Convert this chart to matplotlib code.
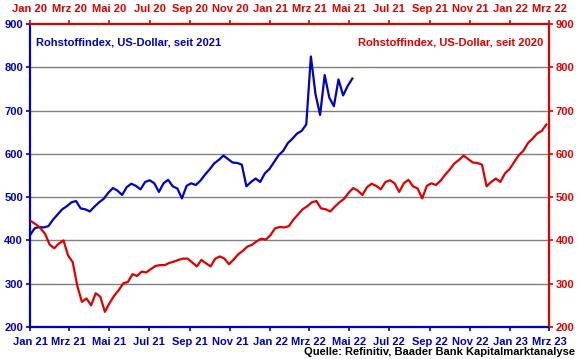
import matplotlib
matplotlib.use("Agg")
import matplotlib.pyplot as plt
import pandas as pd

plt.rcParams['font.family'] = ['Liberation Sans', 'DejaVu Sans']

# Commodity index (USD), weekly readings, Jan 2020 - May 2022
values_2020 = [444, 437, 428, 415, 390, 382, 393, 400, 365, 350, 295, 258, 266, 250,
               278, 270, 235, 255, 272, 285, 301, 304, 322, 318, 328, 326, 334, 341,
               343, 343, 348, 351, 355, 358, 358, 349, 340, 355, 347, 340, 358, 363,
               358, 345, 356, 368, 376, 386, 390, 398, 404, 402]
values_2021_22 = [412, 428, 431, 430, 433, 448, 460, 472, 479, 488, 491, 474, 472, 467,
                  478, 488, 496, 510, 521, 515, 505, 523, 531, 526, 518, 535, 539, 532,
                  512, 532, 540, 525, 520, 497, 526, 532, 528, 538, 552, 564, 578, 586,
                  596, 588, 580, 579, 575, 525, 535, 543, 535, 555, 565, 581, 597, 607,
                  625, 635, 647, 653, 668, 825, 738, 690, 782, 730, 710, 772, 735, 757,
                  774]
index_values = values_2020 + values_2021_22
index_dates = pd.date_range("2020-01-03", periods=len(index_values), freq="7D")

blue_start = "2021-01-01"     # "seit 2021"
red_end = "2022-02-28"        # red series shown until end of Feb 2022

month_names = {1: "Jan", 3: "Mrz", 5: "Mai", 7: "Jul", 9: "Sep", 11: "Nov"}
bottom_ticks = pd.date_range("2021-01-01", "2023-03-01", freq="2MS")
top_ticks = pd.date_range("2020-01-01", "2022-03-01", freq="2MS")
bottom_labels = [f"{month_names[d.month]} {d.year % 100:02d}" for d in bottom_ticks]
top_labels = [f"{month_names[d.month]} {d.year % 100:02d}" for d in top_ticks]
y_ticks = [200, 300, 400, 500, 600, 700, 800, 900]

title_blue = "Rohstoffindex, US-Dollar, seit 2021"
title_red = "Rohstoffindex, US-Dollar, seit 2020"
source = "Quelle: Refinitiv, Baader Bank Kapitalmarktanalyse"

BLUE = "#0000C8"
RED = "#E00000"

fig = plt.figure(figsize=(5.8, 3.59), dpi=100)
pos = [30 / 580, 1 - 327 / 359, (549 - 30) / 580, (327 - 24) / 359]
ax = fig.add_axes(pos)
ax2 = fig.add_axes(pos, frameon=False)

s = pd.Series(index_values, index=index_dates)
blue = s[s.index >= blue_start]
red = s[s.index <= red_end]

ax.plot(blue.index, blue.values, color=BLUE, lw=1.6, zorder=3)
ax2.plot(red.index, red.values, color=RED, lw=1.6, zorder=3)

ax.set_xlim(pd.Timestamp("2021-01-01"), pd.Timestamp("2023-03-01"))
ax2.set_xlim(pd.Timestamp("2020-01-01"), pd.Timestamp("2022-03-01"))
for a in (ax, ax2):
    a.set_ylim(200, 900)
    a.set_yticks(y_ticks)

ax.set_xticks(bottom_ticks)
ax.set_xticklabels(bottom_labels)
ax2.set_xticks(top_ticks)
ax2.set_xticklabels(top_labels)

ax2.xaxis.tick_top()
ax2.yaxis.tick_right()
ax2.patch.set_alpha(0)

for y in y_ticks[1:-1]:
    ax.axhline(y, color="#808080", lw=1.0, zorder=1)

ax.spines['left'].set_color(BLUE)
ax.spines['bottom'].set_color(BLUE)
ax.spines['top'].set_color(RED)
ax.spines['right'].set_color(RED)
for sp in ax.spines.values():
    sp.set_linewidth(1.6)

fs = 8
ax.tick_params(axis='x', colors=BLUE, labelcolor=BLUE, direction='out', length=3, width=1.2, labelsize=fs, pad=4.5)
ax.tick_params(axis='y', colors=BLUE, labelcolor=BLUE, direction='out', length=3, width=1.2, labelsize=fs, pad=2)
ax2.tick_params(axis='x', colors=RED, labelcolor=RED, direction='out', length=3, width=1.2, labelsize=fs, pad=4)
ax2.tick_params(axis='y', colors=RED, labelcolor=RED, direction='out', length=3, width=1.2, labelsize=fs, pad=2)
for a in (ax, ax2):
    for lab in a.get_xticklabels() + a.get_yticklabels():
        lab.set_fontweight('bold')

ax.text(0.012, 0.955, title_blue, transform=ax.transAxes, color=BLUE, fontsize=fs,
        fontweight='bold', ha='left', va='top')
ax.text(0.988, 0.955, title_red, transform=ax.transAxes, color=RED, fontsize=fs,
        fontweight='bold', ha='right', va='top')
fig.text(575 / 580, 1 - 352 / 359, source, color='black', fontsize=fs,
         fontweight='bold', ha='right', va='center')

fig.savefig("out.png", dpi=100)
